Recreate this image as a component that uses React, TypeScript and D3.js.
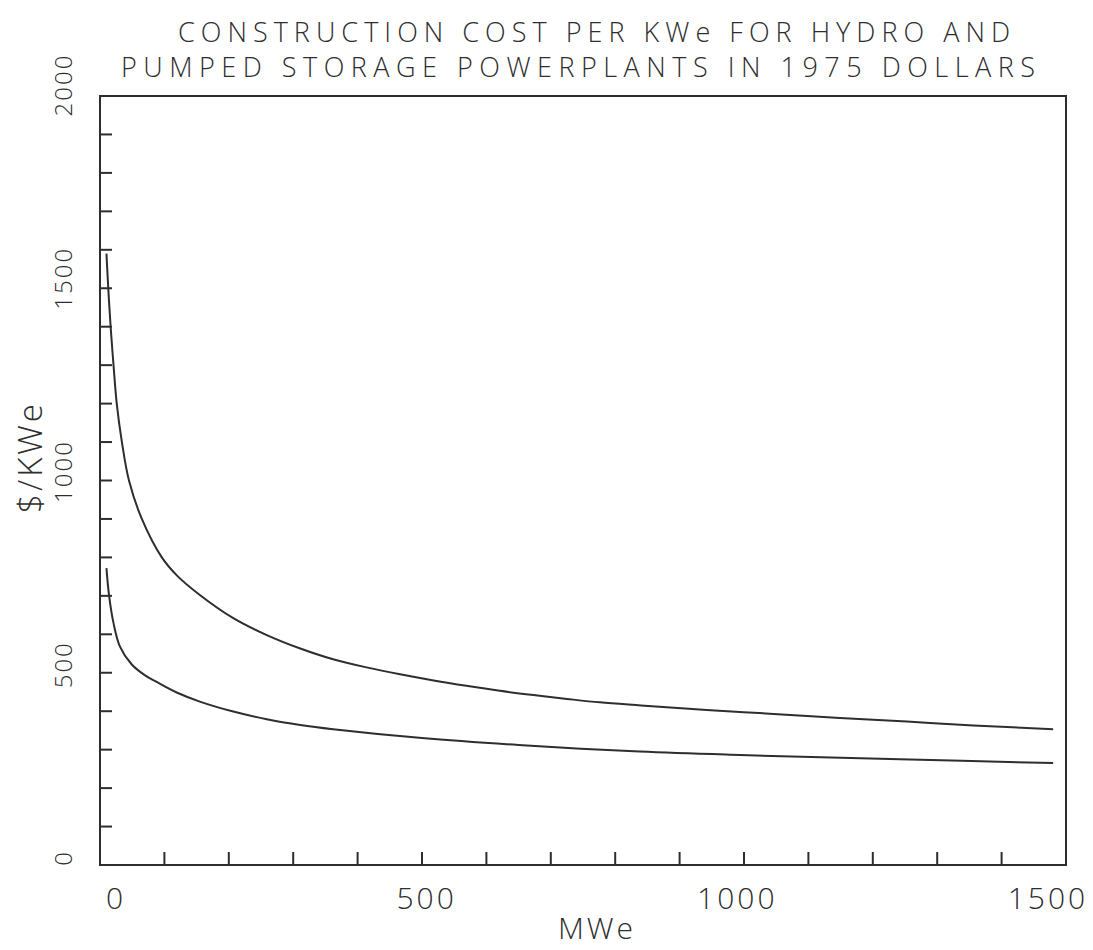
import React from "react";
import * as d3 from "d3";

const titleLines = [
  "CONSTRUCTION COST PER KWe FOR HYDRO AND",
  "PUMPED STORAGE POWERPLANTS IN 1975 DOLLARS",
];
const xLabel = "MWe";
const yLabel = "$/KWe";
const xTickLabels = [0, 500, 1000, 1500];
const yTickLabels = [0, 500, 1000, 1500, 2000];
const xMinorTicks = d3.range(100, 1500, 100);
const yMinorTicks = d3.range(100, 2000, 100);

// Upper curve (hydro): MWe, $/KWe
const upperMWe = [10, 13, 16.5, 21, 26, 34, 45, 65, 96, 120, 153, 207, 259, 311, 362, 414, 466, 518, 569, 621, 673, 725, 776, 840, 942, 1046, 1149, 1253, 1356, 1480];
const upperCost = [1590, 1495, 1400, 1300, 1200, 1100, 1000, 900, 800, 752, 705, 642, 598, 563, 535, 514, 496, 480, 466, 453, 442, 432, 423, 415, 403, 393, 382, 373, 363, 353];
// Lower curve (pumped storage)
const lowerMWe = [10, 14, 21, 31, 49, 70, 88, 120, 155, 207, 259, 311, 362, 500, 650, 838, 994, 1242, 1480];
const lowerCost = [772, 702, 629, 568, 522, 493, 476, 448, 425, 399, 379, 364, 353, 330, 312, 295, 286, 275, 265];

const W = 1093;
const H = 950;
const INK = "#2e2e2e";
const FONT = "'Open Sans', 'DejaVu Sans', sans-serif";

export default function App() {
  const x = d3.scaleLinear().domain([0, 1500]).range([100, 1066]);
  const y = d3.scaleLinear().domain([0, 2000]).range([865, 96]);
  const xLab = d3.scaleLinear().domain([0, 1500]).range([116, 1048]);
  const yLab = d3.scaleLinear().domain([0, 2000]).range([858, 85]);

  const line = d3
    .line<[number, number]>()
    .x((d) => x(d[0]))
    .y((d) => y(d[1]))
    .curve(d3.curveCatmullRom.alpha(0.5));

  const upper = upperMWe.map((m, i) => [m, upperCost[i]] as [number, number]);
  const lower = lowerMWe.map((m, i) => [m, lowerCost[i]] as [number, number]);

  const [x0, x1] = x.range();
  const [yb, yt] = y.range();

  return (
    <div style={{ position: "absolute", left: 0, top: 0 }}>
      <svg width={W} height={H} style={{ display: "block", background: "#fff" }}>
        {/* title */}
        <text x={178} y={42} fontFamily={FONT} fontWeight={300} fontSize={27} fill={INK}
          textLength={832} lengthAdjust="spacing">{titleLines[0]}</text>
        <text x={121} y={77} fontFamily={FONT} fontWeight={300} fontSize={27} fill={INK}
          textLength={914} lengthAdjust="spacing">{titleLines[1]}</text>

        {/* frame */}
        <rect x={x0} y={yt} width={x1 - x0} height={yb - yt} fill="none" stroke={INK} strokeWidth={2} />

        {/* minor ticks */}
        {xMinorTicks.map((t) => (
          <line key={"xt" + t} x1={x(t)} x2={x(t)} y1={yb} y2={yb - 13} stroke={INK} strokeWidth={2} />
        ))}
        {yMinorTicks.map((t) => (
          <line key={"yt" + t} x1={x0} x2={x0 + 12} y1={y(t)} y2={y(t)} stroke={INK} strokeWidth={2} />
        ))}

        {/* x tick labels */}
        {xTickLabels.map((t) => (
          <text key={"xl" + t} x={xLab(t)} y={909} textAnchor="middle" fontFamily={FONT} fontWeight={300}
            fontSize={30} fill={INK} letterSpacing={3}>{t}</text>
        ))}
        {/* y tick labels */}
        {yTickLabels.map((t) => (
          <text key={"yl" + t} transform={`translate(72,${yLab(t)}) rotate(-90)`} textAnchor="middle"
            fontFamily={FONT} fontWeight={300} fontSize={24} fill={INK} letterSpacing={2}>{t}</text>
        ))}

        {/* axis titles */}
        <text x={597} y={939} textAnchor="middle" fontFamily={FONT} fontWeight={300} fontSize={30}
          fill={INK} letterSpacing={3}>{xLabel}</text>
        <text transform={`translate(42,457) rotate(-90)`} textAnchor="middle" fontFamily={FONT}
          fontWeight={300} fontSize={33} fill={INK} letterSpacing={3}>{yLabel}</text>

        {/* curves */}
        <path d={line(upper) || ""} fill="none" stroke={INK} strokeWidth={2} />
        <path d={line(lower) || ""} fill="none" stroke={INK} strokeWidth={2} />
      </svg>
    </div>
  );
}
